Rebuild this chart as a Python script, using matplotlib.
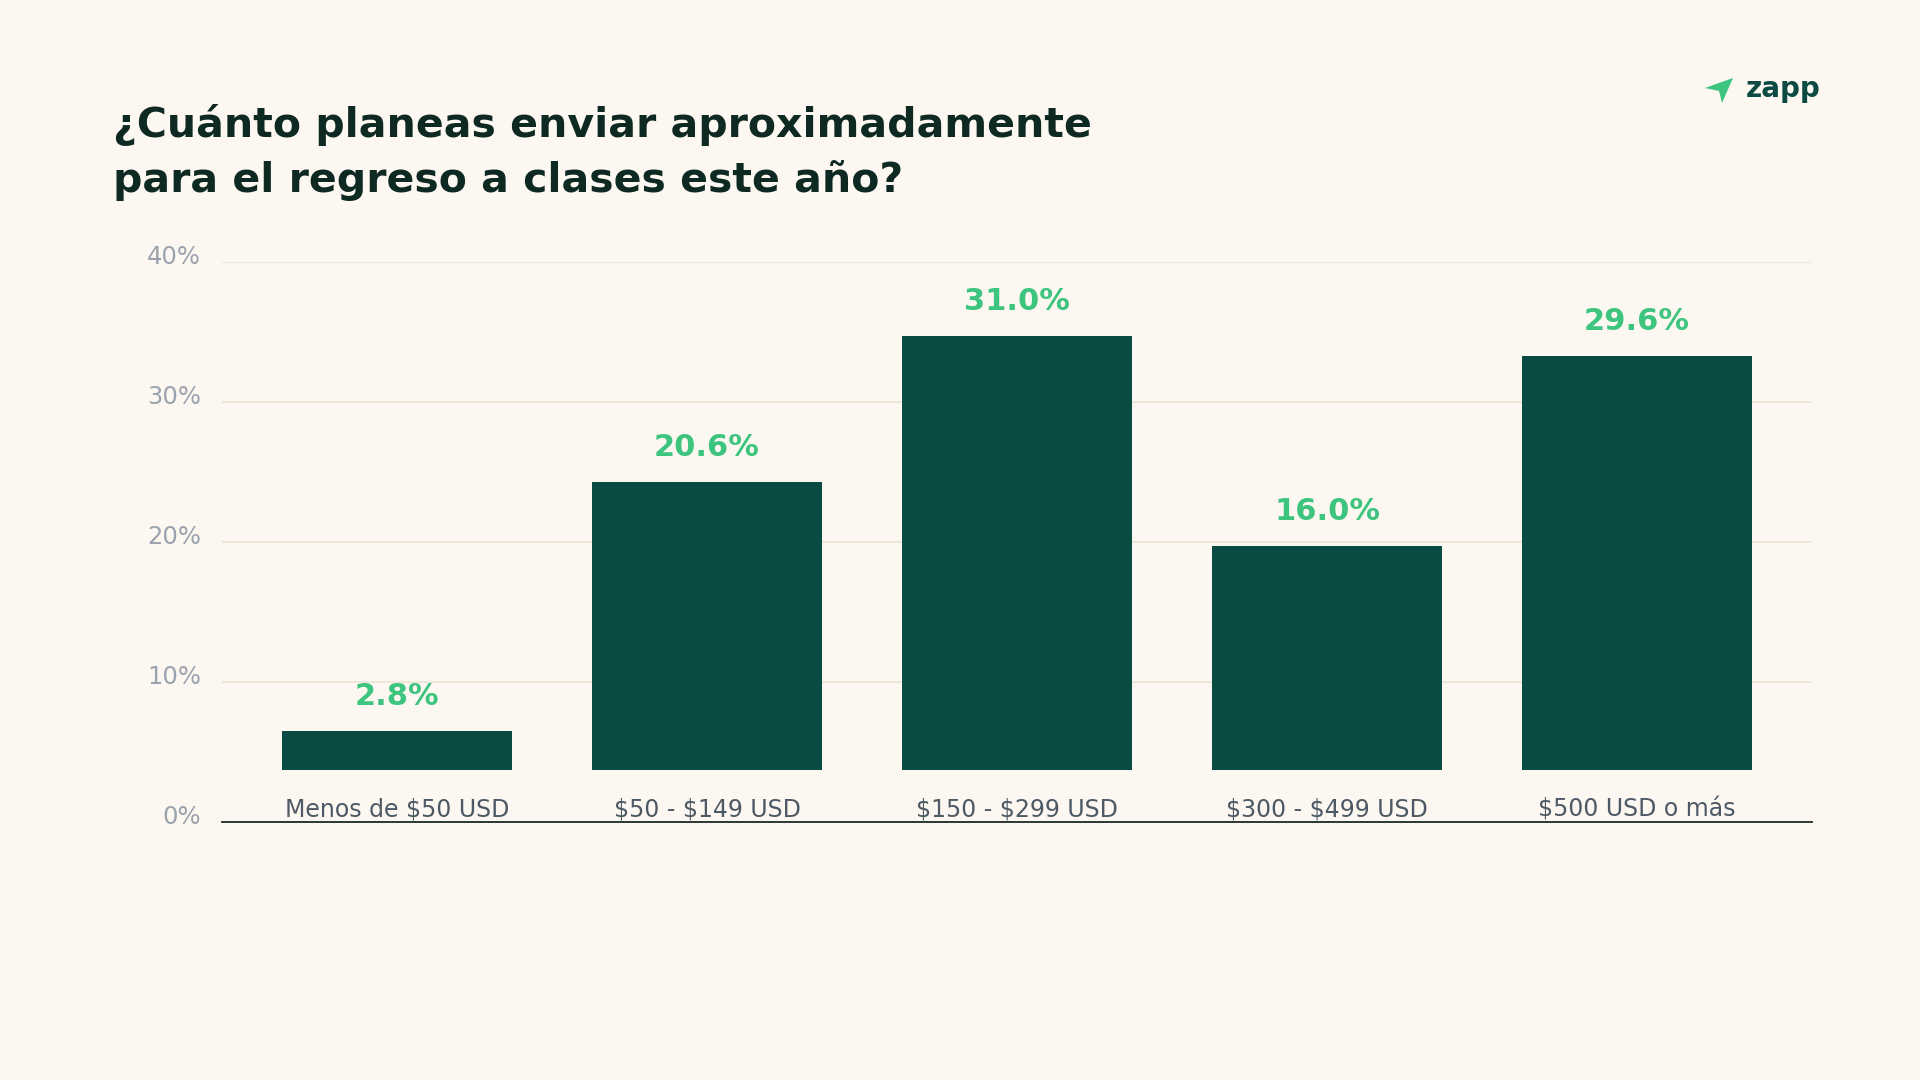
import matplotlib.pyplot as plt
import matplotlib.transforms as mtransforms
from matplotlib.patches import Polygon

categories = ["Menos de $50 USD", "$50 - $149 USD", "$150 - $299 USD", "$300 - $499 USD", "$500 USD o más"]
values = [2.8, 20.6, 31.0, 16.0, 29.6]
y_ticks = [0, 10, 20, 30, 40]
y_tick_labels = ["0%", "10%", "20%", "30%", "40%"]
title_lines = ["¿Cuánto planeas enviar aproximadamente", "para el regreso a clases este año?"]
brand = "zapp"

BG = "#fcf7f0"
BAR = "#0b4a42"
GREEN = "#3dc47e"
TITLE = "#0d2922"
TICK = "#9aa3ad"
CAT = "#4d5a66"
GRID = "#ece6d6"
FONT = "DejaVu Sans"

plt.rcParams["font.family"] = [FONT]

W, H = 1920, 1080
fig = plt.figure(figsize=(W / 100, H / 100), dpi=100, facecolor=BG)
ax = fig.add_axes([222 / W, 1 - 822 / H, (1812 - 222) / W, (822 - 262) / H])
ax.set_facecolor(BG)

# bars sit a little above the zero line, the labels go in the gap
bar_base = 3.7
x = list(range(len(categories)))
ax.bar(x, values, width=0.742, bottom=bar_base, color=BAR, zorder=3)

for xi, v in zip(x, values):
    ax.annotate("{:.1f}%".format(v), (xi, bar_base + v), xytext=(0, 26), textcoords="offset pixels",
                ha="center", va="baseline", color=GREEN, fontsize=22, fontweight="bold")
    ax.annotate(categories[xi], (xi, 0), xytext=(0, 6), textcoords="offset pixels",
                ha="center", va="baseline", color=CAT, fontsize=17, parse_math=False)

ax.set_xlim(-0.5645, 4.5645)
ax.set_ylim(0, 40)
ax.set_xticks([])
ax.set_yticks(y_ticks)
ax.set_yticklabels(y_tick_labels)
ax.tick_params(axis="y", length=0, pad=15, labelsize=17.5, labelcolor=TICK)
offset = mtransforms.ScaledTranslation(0, 7 / 100, fig.dpi_scale_trans)
for lbl in ax.get_yticklabels():
    lbl.set_transform(lbl.get_transform() + offset)
for t in y_ticks[1:]:
    ax.axhline(t, color=GRID, linewidth=1.3, zorder=1)
for side in ["top", "right", "left"]:
    ax.spines[side].set_visible(False)
ax.spines["bottom"].set_color("#1a2a25")
ax.spines["bottom"].set_linewidth(1.3)

fig.text(113 / W, 1 - 137 / H, title_lines[0], ha="left", va="baseline", color=TITLE,
         fontsize=29.5, fontweight="bold")
fig.text(113 / W, 1 - 192 / H, title_lines[1], ha="left", va="baseline", color=TITLE,
         fontsize=29.5, fontweight="bold")

# logo: arrow + wordmark
arrow = [(1705, 88), (1733, 78), (1722, 103), (1719, 91)]
fig.patches.append(Polygon([(px / W, 1 - py / H) for px, py in arrow], closed=True,
                           transform=fig.transFigure, facecolor=GREEN, edgecolor="none"))
fig.text(1746 / W, 1 - 97 / H, brand, ha="left", va="baseline", color=BAR, fontsize=20, fontweight="bold")

fig.savefig("out.png", dpi=100, facecolor=BG)
